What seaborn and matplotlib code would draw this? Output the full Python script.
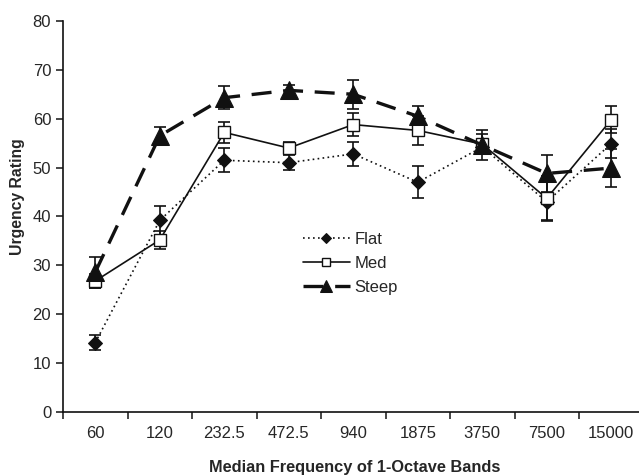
import numpy as np
import pandas as pd
import matplotlib
matplotlib.use("Agg")
import matplotlib.pyplot as plt
import seaborn as sns

# Dados
bandas = ["60", "120", "232.5", "472.5", "940", "1875", "3750", "7500", "15000"]
flat = [14.2, 39.2, 51.5, 51.0, 52.8, 47.0, 54.2, 43.0, 54.9]
flat_err = [1.5, 3.0, 2.5, 1.5, 2.5, 3.3, 1.5, 4.0, 3.0]
med = [26.8, 35.2, 57.2, 54.0, 58.8, 57.6, 54.8, 43.7, 59.8]
med_err = [1.5, 1.8, 2.2, 1.2, 2.3, 3.0, 2.0, 4.5, 2.8]
steep = [28.6, 56.5, 64.3, 65.8, 65.0, 60.5, 54.6, 48.8, 49.9]
steep_err = [3.2, 1.8, 2.4, 1.0, 3.0, 2.0, 3.0, 3.8, 3.8]

sns.set_style("ticks")
plt.rcParams['font.family'] = ['Liberation Sans', 'DejaVu Sans']

fig = plt.figure(figsize=(6.39, 4.76), dpi=100)
ax = fig.add_axes([0.0986, 0.1345, 0.9014, 0.8215])

cor = "#111111"
pos = np.arange(len(bandas))
series = [
    ("Flat", flat, flat_err, dict(linestyle=(0, (1, 2)), linewidth=1.2, marker="D", markersize=7.5)),
    ("Med", med, med_err, dict(linestyle="-", linewidth=1.2, marker="s", markersize=8,
                                markerfacecolor="white", markeredgewidth=1.0)),
    ("Steep", steep, steep_err, dict(linestyle=(0, (6, 3.5)), linewidth=2.4, marker="^", markersize=13)),
]

for nome, vals, errs, estilo in series:
    df = pd.DataFrame({"pos": pos, "valor": vals})
    ax.errorbar(pos, vals, yerr=errs, fmt="none", ecolor=cor, elinewidth=1.2,
                capsize=4, capthick=1.2, zorder=2)
    sns.lineplot(data=df, x="pos", y="valor", ax=ax, color=cor, label=nome,
                 markeredgecolor=cor, zorder=3, **estilo)

ax.set_ylim(0, 80)
ax.set_yticks(range(0, 81, 10))
ax.set_xlim(-0.5, 8.43)
ax.set_xticks(np.arange(-0.5, 8.5, 1.0))
ax.set_xticklabels([])
ax.set_xticks(pos, minor=True)
ax.set_xticklabels(bandas, minor=True)
ax.tick_params(axis="x", which="minor", length=0, pad=10, labelsize=12)
ax.tick_params(axis="x", which="major", length=5, width=1.2, direction="out")
ax.tick_params(axis="y", length=5, width=1.2, labelsize=12, direction="out")
for s in ["left", "bottom"]:
    ax.spines[s].set_linewidth(1.2)
    ax.spines[s].set_color(cor)
sns.despine(ax=ax)

ax.set_xlabel("Median Frequency of 1-Octave Bands", fontsize=11.8, fontweight="bold")
ax.set_ylabel("Urgency Rating", fontsize=11.3, fontweight="bold")
ax.xaxis.set_label_coords(0.507, -0.122)
ax.yaxis.set_label_coords(-0.066, 0.551)

leg = ax.legend(loc="upper left", bbox_to_anchor=(0.405, 0.478), frameon=False, fontsize=12,
                handlelength=2.8, handletextpad=0.3, labelspacing=0.55, borderaxespad=0,
                markerscale=0.65)

fig.savefig("out.png", dpi=100)
